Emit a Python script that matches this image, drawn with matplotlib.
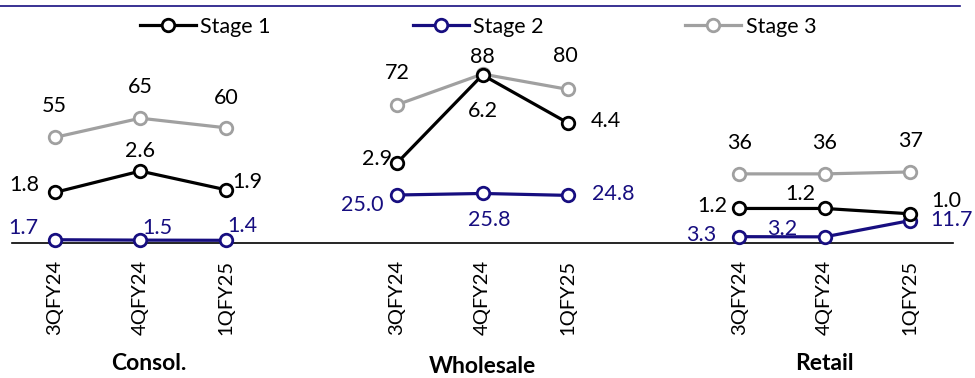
import matplotlib
matplotlib.use("Agg")
import matplotlib.pyplot as plt
import matplotlib.transforms as mtransforms
from matplotlib.lines import Line2D

plt.rcParams['font.family'] = ['Lato', 'DejaVu Sans']

# data
groups = ["Consol.", "Wholesale", "Retail"]
quarters = ["3QFY24", "4QFY24", "1QFY25"]
stage1 = [1.8, 2.6, 1.9, 2.9, 6.2, 4.4, 1.2, 1.2, 1.0]
stage2 = [1.7, 1.5, 1.4, 25.0, 25.8, 24.8, 3.3, 3.2, 11.7]
stage3 = [55, 65, 60, 72, 88, 80, 36, 36, 37]

# slot positions: 3 quarters per group, one empty slot between groups
xpos = [g * 4 + q for g in range(len(groups)) for q in range(len(quarters))]
xlabels = quarters * len(groups)

# label offsets in pixels (dx, dy) relative to each marker
off1 = [(-30, 7), (0, 20), (21, 8), (-20, 4), (0, -36), (38, 2), (-27, 2), (-24, 14), (36, 13)]
off2 = [(-31, 12), (17, 12), (16, 14), (-35, -10), (7, -27), (45, 1), (-38, 2), (-43, 8), (41, 1)]
off3 = [(0, 31), (0, 31), (0, 30), (0, 32), (0, 17), (-3, 33), (0, 31), (0, 31), (0, 31)]

c1, c2, c3 = "black", "#170e80", "#a0a0a0"

fig = plt.figure(figsize=(9.75, 3.78), dpi=100)
ax = fig.add_axes([12 / 975, 1 - 243 / 378, 941 / 975, 223 / 378])
ax2 = ax.twinx()

ax.set_xlim(-0.5, 10.5)
ax.set_ylim(0, 223 / 1.92)
ax2.set_ylim(-2.5 / 26.7, 220.5 / 26.7)

mk = dict(marker="o", markersize=9, markerfacecolor="white", markeredgewidth=2.0,
          linewidth=2.3, clip_on=False)

for g in range(len(groups)):
    sl = slice(g * 3, g * 3 + 3)
    ax.plot(xpos[sl], stage3[sl], color=c3, zorder=2, **mk)
    ax.plot(xpos[sl], stage2[sl], color=c2, zorder=4, **mk)
    ax2.plot(xpos[sl], stage1[sl], color=c1, zorder=3, **mk)

fs = 15.5
for i, x in enumerate(xpos):
    ax.annotate(f"{stage3[i]:.0f}", (x, stage3[i]), xytext=off3[i], textcoords="offset pixels",
                ha="center", va="center", fontsize=fs, color="black")
    ax.annotate(f"{stage2[i]:.1f}", (x, stage2[i]), xytext=off2[i], textcoords="offset pixels",
                ha="center", va="center", fontsize=fs, color=c2)
    ax2.annotate(f"{stage1[i]:.1f}", (x, stage1[i]), xytext=off1[i], textcoords="offset pixels",
                 ha="center", va="center", fontsize=fs, color="black")

for a in (ax, ax2):
    for s in ("top", "right", "left"):
        a.spines[s].set_visible(False)
    a.set_yticks([])
ax2.spines["bottom"].set_visible(False)
ax.spines["bottom"].set_linewidth(1.2)
ax.spines["bottom"].set_color("black")

ax.set_xticks(xpos)
ax.set_xticklabels(xlabels, rotation=90, fontsize=14.5)
ax.tick_params(axis="x", length=0, pad=12)

# group names under each block
trans = mtransforms.blended_transform_factory(ax.transData, fig.transFigure)
gy = [1 - 370 / 378, 1 - 373 / 378, 1 - 370 / 378]
gx = [1.1, 5, 9]
for g, name in enumerate(groups):
    ax.text(gx[g], gy[g], name, transform=trans, ha="center", va="baseline",
            fontsize=16.5, fontweight="bold")

# title rule at the top
fig.add_artist(Line2D([0, 960 / 975], [1 - 6 / 378, 1 - 6 / 378], color=c2, linewidth=1.2))

handles = [Line2D([], [], color=c, marker="o", markersize=9, markerfacecolor="white",
                  markeredgewidth=2.0, linewidth=2.3) for c in (c1, c2, c3)]
fig.legend(handles, ["Stage 1", "Stage 2", "Stage 3"], loc="center",
           bbox_to_anchor=(478 / 975, 1 - 27 / 378), ncol=3, frameon=False, fontsize=fs,
           handlelength=2.6, handletextpad=0.2, columnspacing=6.6)

fig.savefig("out.png", dpi=100)
